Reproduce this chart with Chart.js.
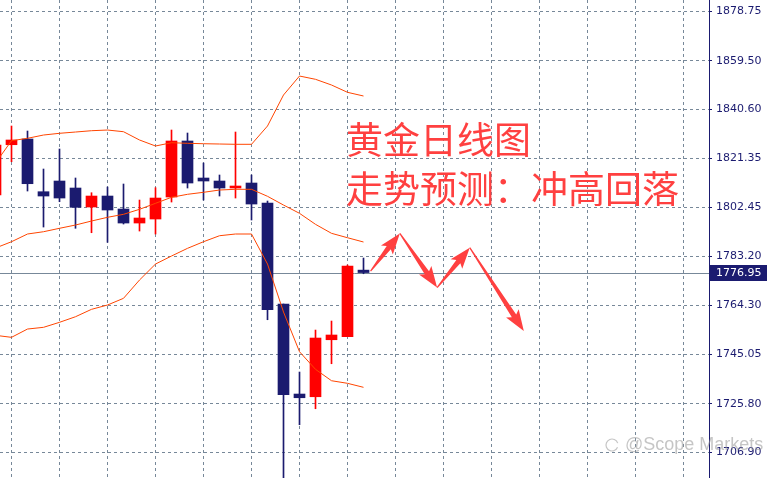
<!DOCTYPE html>
<html>
<head>
<meta charset="utf-8">
<script src="https://cdn.jsdelivr.net/npm/chart.js@4.4.1/dist/chart.umd.min.js"></script>
<style>
    html, body { margin: 0; padding: 0; background: #ffffff; }
    #wrap { width: 768px; height: 478px; position: relative; }
</style>
</head>
<body>
<div id="wrap"><canvas id="goldChart"></canvas></div>
<script>
// one slot per daily candle, slot 0 is cut by the left edge
const slots = [0, 1, 2, 3, 4, 5, 6, 7, 8, 9, 10, 11, 12, 13, 14, 15, 16, 17, 18, 19, 20, 21, 22, 23];
const opens  = [1807.16, 1826.76, 1828.99, 1808.45, 1812.62, 1809.89, 1802.49, 1806.77, 1801.71, 1796.25, 1797.81, 1806.38, 1828.21, 1813.79, 1812.62, 1809.89, 1811.84, 1804.04, 1764.69, 1729.62, 1728.56, 1750.77, 1751.95, 1777.90];
const highs  = [1828.60, 1834.05, 1832.10, 1817.29, 1825.09, 1813.79, 1808.06, 1810.28, 1811.45, 1805.21, 1810.01, 1832.49, 1831.32, 1819.63, 1814.96, 1831.71, 1814.96, 1804.82, 1764.69, 1738.19, 1754.55, 1758.06, 1779.88, 1782.61];
const lows   = [1805.20, 1820.14, 1808.72, 1794.69, 1804.55, 1794.19, 1792.47, 1788.73, 1795.86, 1793.13, 1791.96, 1804.43, 1809.89, 1805.21, 1806.77, 1805.99, 1797.42, 1758.57, 1696.10, 1717.65, 1723.89, 1741.42, 1751.95, 1776.49];
const closes = [1826.65, 1828.60, 1811.57, 1806.77, 1805.99, 1802.37, 1806.77, 1801.32, 1796.25, 1798.20, 1805.99, 1828.21, 1811.84, 1812.62, 1809.89, 1810.67, 1803.65, 1762.47, 1729.34, 1728.17, 1751.44, 1752.62, 1779.50, 1776.95];

// bollinger bands
const bandUpper  = [1819.63, 1828.32, 1829.26, 1830.54, 1831.21, 1831.71, 1832.22, 1832.49, 1831.83, 1828.60, 1826.26, 1827.54, 1827.31, 1827.15, 1827.04, 1826.92, 1826.92, 1834.05, 1846.13, 1853.53, 1852.25, 1850.03, 1847.18, 1845.74];
const bandMiddle = [1786.51, 1788.96, 1791.97, 1792.86, 1794.19, 1795.47, 1797.03, 1798.47, 1799.64, 1801.59, 1803.93, 1806.27, 1807.44, 1808.22, 1809.11, 1809.39, 1809.39, 1806.66, 1803.26, 1800.03, 1795.74, 1792.24, 1790.52, 1788.85];
const bandLower  = [1752.49, 1751.71, 1754.94, 1755.61, 1757.56, 1759.74, 1762.62, 1764.30, 1766.91, 1774.04, 1780.27, 1783.39, 1786.39, 1788.96, 1791.30, 1791.97, 1791.97, 1780.27, 1761.57, 1746.10, 1739.24, 1734.80, 1733.79, 1732.23];

const priceTicks = [1878.75, 1859.50, 1840.60, 1821.35, 1802.45, 1783.20, 1764.30, 1745.05, 1725.80, 1706.90];
const gridSlots = [1, 4, 7, 10, 13, 16, 19, 22, 25, 28, 31, 34, 37, 40, 43];
const lastPrice = 1776.95;

// hand drawn forecast: up, down, up, down
const forecastSlots  = [23.44, 25.27, 27.60, 29.64, 33.02];
const forecastPrices = [1777.55, 1792.20, 1771.10, 1786.65, 1754.20];

const titleLines = ['黄金日线图', '走势预测：冲高回落'];
const watermark = '@Scope Markets';

const UP = '#ff0000';
const DOWN = '#1b1b6f';
const BAND = '#ff4500';
const GRID = '#778899';
const AXIS = '#1b1b70';
const MARK = '#ff4040';

const candleColors = slots.map(i => closes[i] >= opens[i] ? UP : DOWN);

function bandData(values) {
    return slots.map(i => ({ x: i, y: values[i] }));
}

function drawArrow(ctx, x1, y1, x2, y2) {
    const dx = x2 - x1, dy = y2 - y1;
    const len = Math.hypot(dx, dy);
    const ux = dx / len, uy = dy / len;
    const nx = -uy, ny = ux;
    const head = Math.min(18, len * 0.42);
    const hw = 7.5, sw0 = 0.6, sw1 = 2.6;
    const bx = x2 - ux * head, by = y2 - uy * head;
    const nbx = bx - ux * 3, nby = by - uy * 3;
    ctx.beginPath();
    ctx.moveTo(x1 + nx * sw0, y1 + ny * sw0);
    ctx.lineTo(bx + nx * sw1, by + ny * sw1);
    ctx.lineTo(nbx + nx * hw, nby + ny * hw);
    ctx.lineTo(x2, y2);
    ctx.lineTo(nbx - nx * hw, nby - ny * hw);
    ctx.lineTo(bx - nx * sw1, by - ny * sw1);
    ctx.lineTo(x1 - nx * sw0, y1 - ny * sw0);
    ctx.closePath();
    ctx.fill();
}

const priceLinePlugin = {
    id: 'priceLine',
    beforeDatasetsDraw(chart) {
        const { ctx, chartArea, scales } = chart;
        const y = Math.round(scales.y.getPixelForValue(lastPrice)) + 0.5;
        ctx.save();
        ctx.strokeStyle = GRID;
        ctx.lineWidth = 1;
        ctx.beginPath();
        ctx.moveTo(chartArea.left, y);
        ctx.lineTo(chartArea.right, y);
        ctx.stroke();
        ctx.restore();
    }
};

const overlayPlugin = {
    id: 'overlay',
    afterDatasetsDraw(chart) {
        const { ctx, scales } = chart;
        ctx.save();
        ctx.fillStyle = MARK;
        for (let k = 0; k < forecastSlots.length - 1; k++) {
            drawArrow(ctx,
                scales.x.getPixelForValue(forecastSlots[k]), scales.y.getPixelForValue(forecastPrices[k]),
                scales.x.getPixelForValue(forecastSlots[k + 1]), scales.y.getPixelForValue(forecastPrices[k + 1]));
        }
        ctx.restore();
    },
    afterDraw(chart) {
        const { ctx, chartArea, scales } = chart;
        ctx.save();

        // title text
        ctx.fillStyle = MARK;
        ctx.font = '37px "Noto Sans CJK SC"';
        ctx.textBaseline = 'alphabetic';
        ctx.textAlign = 'left';
        ctx.fillText(titleLines[0], 346, 154);
        ctx.fillText(titleLines[1], 346, 203);

        // last price tag on the axis
        const py = scales.y.getPixelForValue(lastPrice);
        ctx.fillStyle = AXIS;
        ctx.fillRect(chartArea.right + 1, Math.round(py) - 8, 57, 16);
        ctx.fillStyle = '#ffffff';
        ctx.font = '11px "DejaVu Sans"';
        ctx.textBaseline = 'middle';
        ctx.fillText(lastPrice.toFixed(2), chartArea.right + 7, Math.round(py));

        // watermark
        ctx.strokeStyle = 'rgba(150,150,150,0.55)';
        ctx.lineWidth = 1.2;
        ctx.beginPath();
        ctx.arc(612, 445, 6, 0.4, Math.PI * 1.9);
        ctx.stroke();
        ctx.fillStyle = 'rgba(150,150,150,0.55)';
        ctx.font = '18px "Liberation Sans"';
        ctx.textBaseline = 'middle';
        ctx.fillText(watermark, 625, 445);
        ctx.restore();
    }
};

new Chart(document.getElementById('goldChart'), {
    type: 'bar',
    data: {
        datasets: [
            {
                label: 'body',
                data: slots.map(i => ({ x: i, y: [opens[i], closes[i]] })),
                backgroundColor: candleColors,
                barThickness: 11,
                grouped: false,
                borderWidth: 0,
                order: 1
            },
            {
                label: 'wick',
                data: slots.map(i => ({ x: i, y: [lows[i], highs[i]] })),
                backgroundColor: candleColors,
                barThickness: 1,
                grouped: false,
                borderWidth: 0,
                order: 2
            },
            { type: 'line', label: 'upper', data: bandData(bandUpper), borderColor: BAND, borderWidth: 1, pointRadius: 0, tension: 0, order: 0 },
            { type: 'line', label: 'middle', data: bandData(bandMiddle), borderColor: BAND, borderWidth: 1, pointRadius: 0, tension: 0, order: 0 },
            { type: 'line', label: 'lower', data: bandData(bandLower), borderColor: BAND, borderWidth: 1, pointRadius: 0, tension: 0, order: 0 }
        ]
    },
    options: {
        responsive: true,
        maintainAspectRatio: false,
        animation: false,
        layout: { padding: 0 },
        plugins: {
            legend: { display: false },
            tooltip: { enabled: false }
        },
        scales: {
            x: {
                type: 'linear',
                position: 'bottom',
                min: 4.5 / 16,
                max: 713.5 / 16,
                offset: false,
                afterBuildTicks: s => { s.ticks = gridSlots.map(v => ({ value: v })); },
                afterFit: s => { s.height = 0; s.paddingLeft = 0; s.paddingRight = 0; },
                ticks: { display: false },
                grid: { color: GRID, drawTicks: false, offset: false },
                border: { display: false, dash: [3, 3] }
            },
            y: {
                type: 'linear',
                position: 'right',
                min: 1696.9,
                max: 1883.15,
                beginAtZero: false,
                afterBuildTicks: s => { s.ticks = priceTicks.map(v => ({ value: v })); },
                afterFit: s => { s.width = 59; s.paddingTop = 0; s.paddingBottom = 0; },
                ticks: {
                    autoSkip: false,
                    padding: 4,
                    color: AXIS,
                    font: { family: 'DejaVu Sans', size: 11 },
                    callback: v => Number(v).toFixed(2)
                },
                grid: {
                    color: GRID,
                    tickColor: AXIS,
                    tickLength: 3,
                    tickBorderDash: []
                },
                border: { display: true, color: AXIS, width: 1, dash: [3, 3] }
            }
        }
    },
    plugins: [priceLinePlugin, overlayPlugin]
});
</script>
</body>
</html>
